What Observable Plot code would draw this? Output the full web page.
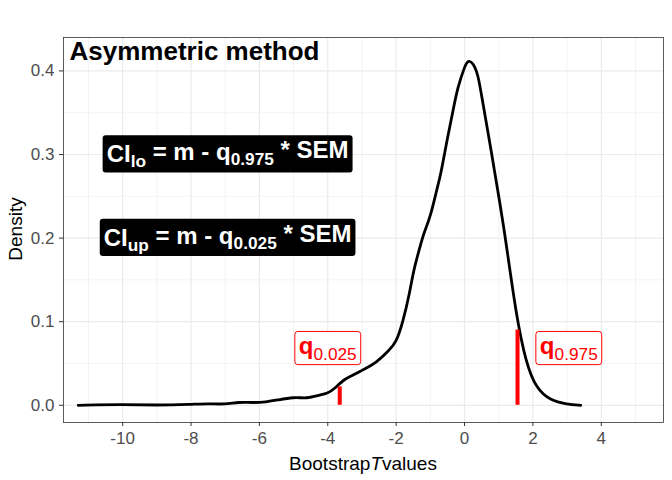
<!DOCTYPE html>
<html><head><meta charset="utf-8">
<script src="https://cdn.jsdelivr.net/npm/d3@7"></script>
<script src="https://cdn.jsdelivr.net/npm/@observablehq/plot@0.6"></script>
<style>body{margin:0;background:#fff;font-family:"Liberation Sans",Arial,sans-serif}</style>
</head><body><div id="chart"></div>
<script>
const tvals = [-11.3,-10,-9,-8,-7.5,-7,-6.6,-6.2,-5.8,-5.5,-5,-4.6,-4.3,-4,-3.8,-3.5,-3.2,-3,-2.6,-2.2,-2,-1.8,-1.6,-1.5,-1.3,-1.2,-1,-0.8,-0.7,-0.5,-0.3,-0.2,0,0.1,0.25,0.4,0.5,0.8,1.0,1.2,1.5,1.8,2.1,2.5,3,3.4];
const dens  = [0,0.001,0,0.001,0.002,0.001,0.004,0.003,0.004,0.006,0.01,0.008,0.012,0.014,0.02,0.032,0.037,0.042,0.05,0.066,0.075,0.1,0.135,0.16,0.19,0.205,0.225,0.26,0.275,0.32,0.36,0.38,0.405,0.413,0.41,0.395,0.37,0.3,0.25,0.2,0.11,0.05,0.02,0.006,0.001,0];
const quantX = [-3.65, 1.55];
const quantY = [0.022, 0.09];
const qLabels = ["q_{0.025}", "q_{0.975}"];
const qLabelX = [-4.0, 3.05];
const ciLabels = ["CI_{lo} = m - q_{0.975} * SEM", "CI_{up} = m - q_{0.025} * SEM"];
const ciX = [-6.93, -6.93];
const ciY = [0.3, 0.2];

const curve = tvals.map((t, i) => ({t, d: dens[i]}));
const quants = quantX.map((x, i) => ({x, y: quantY[i], label: qLabels[i], lx: qLabelX[i]}));
const cis = ciLabels.map((label, i) => ({label, x: ciX[i], y: ciY[i]}));

const chart = Plot.plot({
  width: 672, height: 480,
  marginLeft: 63, marginRight: 9, marginTop: 37, marginBottom: 58,
  style: {fontFamily: "Liberation Sans, Arial, sans-serif", fontSize: "17px", color: "#333"},
  x: {domain: [-11.73, 5.82], ticks: [-10,-8,-6,-4,-2,0,2,4], tickFormat: d => String(d), tickSize: 4, label: null},
  y: {domain: [-0.0206, 0.44], ticks: [0,0.1,0.2,0.3,0.4], tickFormat: d3.format(".1f"), tickSize: 4, label: null},
  marks: [
    Plot.ruleX(d3.range(-11, 6, 2), {stroke: "#ebebeb", strokeWidth: 0.6}),
    Plot.ruleY(d3.range(0.05, 0.44, 0.1), {stroke: "#ebebeb", strokeWidth: 0.6}),
    Plot.gridX([-10,-8,-6,-4,-2,0,2,4], {stroke: "#ebebeb", strokeOpacity: 1, strokeWidth: 1.2}),
    Plot.gridY([0,0.1,0.2,0.3,0.4], {stroke: "#ebebeb", strokeOpacity: 1, strokeWidth: 1.2}),
    Plot.frame({stroke: "#333", strokeWidth: 0.8}),
    Plot.line(curve, {x: "t", y: "d", curve: "basis", stroke: "black", strokeWidth: 2.8}),
    Plot.ruleX(quants, {x: "x", y1: 0, y2: "y", stroke: "red", strokeWidth: 4}),
    Plot.text(quants, {x: "lx", y: 0.07, text: "label", fill: "red", fontSize: 24, className: "qlab"}),
    Plot.text(cis, {x: "x", y: "y", text: "label", fill: "white", fontSize: 24, fontWeight: "bold", className: "cilab"}),
    Plot.text(["Asymmetric method"], {frameAnchor: "top-left", dx: 6, dy: 4, fontSize: 26, fontWeight: "bold", fill: "black", textAnchor: "start", lineAnchor: "top"})
  ]
});
document.getElementById("chart").appendChild(chart);
const svg = d3.select(chart);

function subify(sel, bold) {
  sel.each(function() {
    const node = d3.select(this);
    const s = node.text();
    node.text("");
    const parts = s.split(/(_\{[^}]*\})/);
    parts.forEach(p => {
      if (!p) return;
      if (p.startsWith("_{")) {
        node.append("tspan").attr("font-size", "0.72em").attr("dy", "0.3em").attr("font-weight", bold ? "bold" : "normal").text(p.slice(2, -1));
        node.append("tspan").attr("dy", "-0.3em").text("\u200b");
      } else {
        node.append("tspan").attr("font-weight", "bold").text(p);
      }
    });
  });
}
subify(svg.selectAll(".qlab text"), false);
subify(svg.selectAll(".cilab text"), true);

function boxes(sel, fill, stroke, pad) {
  sel.each(function() {
    const b = this.getBBox();
    const r = d3.select(this.parentNode).insert("rect", () => this)
      .attr("x", b.x - pad).attr("y", b.y - 1).attr("width", b.width + 2 * pad).attr("height", b.height + 2)
      .attr("rx", 3).attr("fill", fill).attr("stroke", stroke);
    const tr = this.getAttribute("transform");
    if (tr) r.attr("transform", tr);
    const tx = this.getAttribute("x"), ty = this.getAttribute("y");
    if (tx != null && !tr) r.attr("x", b.x - pad);
  });
}
boxes(svg.selectAll(".qlab text"), "white", "red", 4);
boxes(svg.selectAll(".cilab text"), "black", "none", 4);

svg.selectAll("[aria-label='x-axis tick label'] text, [aria-label='y-axis tick label'] text").attr("fill", "#4d4d4d");
const xl = svg.append("text").attr("x", 63 + 600 / 2).attr("y", 470).attr("text-anchor", "middle").attr("font-size", 19).attr("fill", "black");
xl.append("tspan").text("Bootstrap");
xl.append("tspan").attr("font-style", "italic").text("T");
xl.append("tspan").text("values");
svg.append("text").attr("transform", "translate(22,229) rotate(-90)").attr("text-anchor", "middle").attr("font-size", 19).attr("fill", "black").text("Density");
</script></body></html>
